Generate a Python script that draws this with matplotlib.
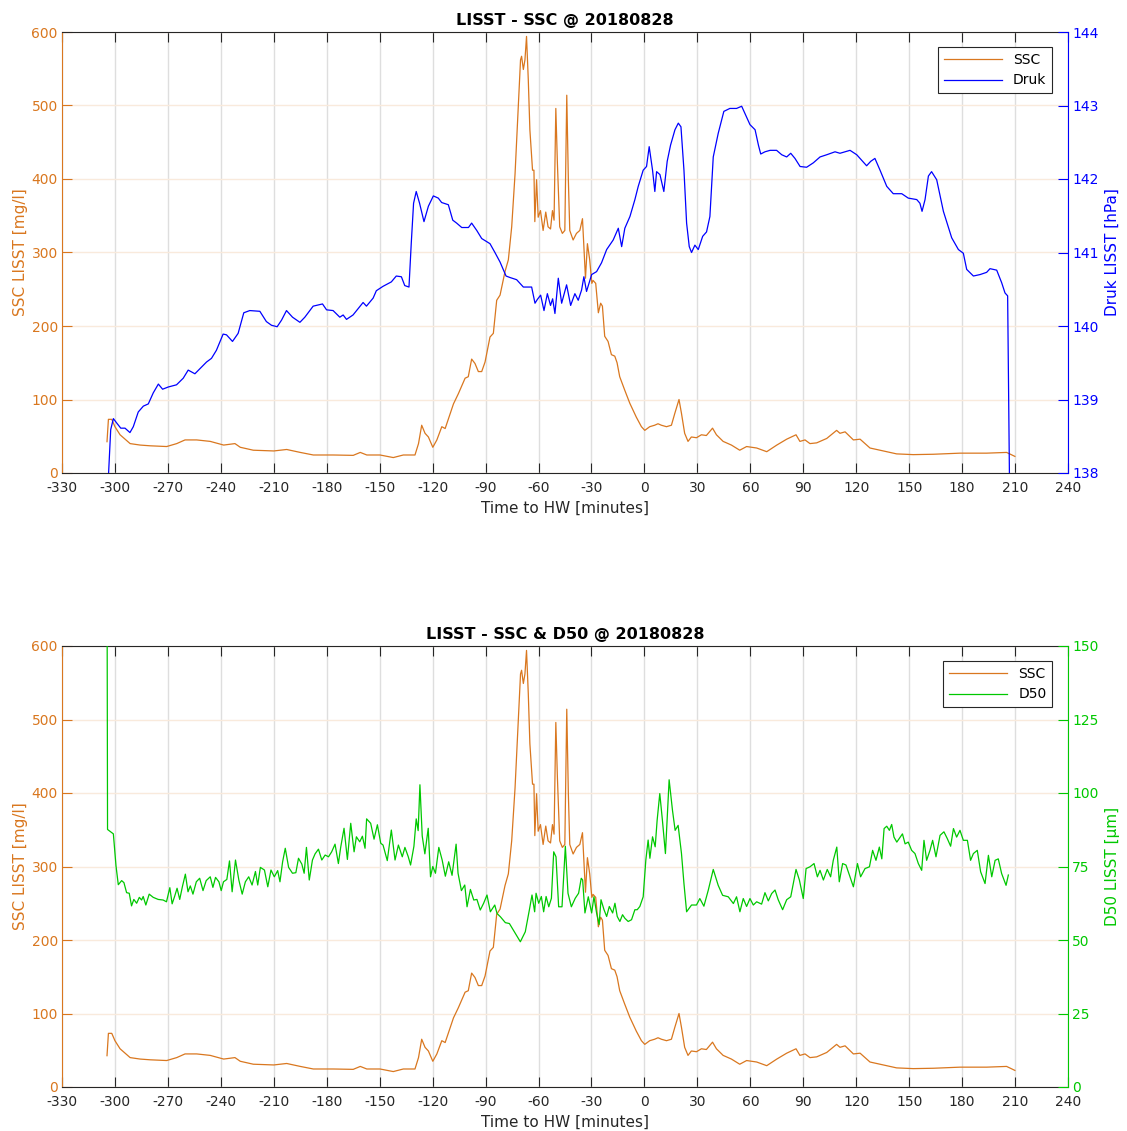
import matplotlib
matplotlib.use("Agg")
import matplotlib.pyplot as plt
import numpy as np

plt.rcParams['font.family'] = ['DejaVu Sans']
plt.rcParams['axes.unicode_minus'] = False

# LISST meting 28-08-2018, tijd t.o.v. hoogwater [min]
ssc_time = [-304.5, -303.7, -301.8, -300.0, -297.1, -291.4, -285.7, -280.0, -270.7, -265.0,
            -260.3, -253.7, -246.0, -238.4, -232.0, -229.0, -221.6, -210.0, -202.7, -195.0,
            -187.6, -176.3, -165.0, -161.0, -157.3, -149.8, -142.3, -136.6, -130.0, -128.0,
            -126.2, -124.3, -122.4, -119.9, -117.6, -114.8, -112.9, -108.2, -105.4, -101.6,
            -99.8, -97.9, -96.0, -94.1, -92.2, -90.3, -87.5, -85.6, -83.7, -81.8,
            -79.0, -77.1, -75.2, -73.3, -71.5, -70.2, -69.6, -68.6, -67.7, -66.8,
            -65.8, -64.9, -63.4, -62.6, -62.1, -61.1, -60.2, -58.9, -57.4, -55.9,
            -54.6, -53.2, -52.1, -51.2, -50.2, -49.3, -48.0, -46.5, -45.1, -44.0,
            -43.1, -42.3, -40.4, -38.5, -36.6, -35.1, -34.4, -33.4, -32.3, -31.0,
            -29.8, -29.1, -27.6, -26.1, -24.8, -23.8, -22.5, -20.6, -18.7, -16.8,
            -15.5, -14.0, -11.2, -8.3, -4.6, -1.7, 0.2, 3.0, 5.8, 7.7,
            9.6, 12.5, 15.3, 17.2, 19.6, 21.0, 22.8, 24.7, 26.6, 29.5,
            32.3, 35.1, 38.6, 40.8, 44.6, 49.3, 54.0, 57.9, 63.6, 69.3,
            75.0, 80.6, 85.9, 88.1, 91.0, 93.8, 97.6, 103.3, 108.9, 110.8,
            113.7, 118.4, 122.2, 127.8, 133.5, 142.9, 152.3, 163.7, 178.8, 193.9,
            205.2, 209.9]
ssc = [42.6, 73, 73, 63, 52, 40, 38, 37, 36, 40,
       45, 45, 43, 38, 40, 35, 31, 30, 32, 28,
       24.5, 24.5, 24, 28, 24.5, 24.5, 21, 24.5, 24.5, 40,
       65, 54, 49, 35, 45, 63, 60.5, 94, 108, 129,
       131, 155, 149, 138, 138, 151, 185, 190, 235, 242,
       274, 290, 335, 407, 498, 562, 567, 549, 562, 594,
       535, 467, 412, 412, 342, 399, 348, 357, 330, 355,
       335, 332, 357, 344, 496, 421, 335, 326, 330, 514,
       399, 330, 317, 326, 330, 346, 312, 265, 312, 290,
       258, 262, 258, 218, 231, 227, 186, 179, 161, 159,
       150, 131, 113, 95, 76, 63, 58, 63, 65, 67,
       65, 63, 65, 81, 100, 81, 54, 43, 49, 48,
       52, 51, 61, 52, 43, 38, 31, 36, 34, 29,
       38, 46, 52, 43, 45, 40, 41, 47, 58, 54,
       56, 45, 46, 34, 31, 26, 25, 25.5, 27, 27,
       28, 22.6]

druk_time = [-303.6, -302.4, -300.9, -299.0, -296.7, -294.3, -291.5, -289.6, -286.8, -283.9,
             -281.1, -278.3, -275.4, -273.0, -269.8, -265.1, -261.3, -258.5, -254.7, -251.0,
             -248.1, -245.3, -242.5, -238.7, -236.8, -233.4, -230.2, -227.0, -223.6, -217.9,
             -214.2, -211.3, -208.1, -205.6, -202.8, -199.4, -195.2, -192.4, -187.7, -182.4,
             -180.1, -176.4, -172.6, -170.7, -168.8, -165.1, -159.4, -157.5, -153.7, -151.9,
             -148.1, -143.4, -140.6, -137.7, -135.8, -133.4, -132.1, -130.8, -129.3, -127.4,
             -124.9, -122.4, -119.6, -116.8, -114.9, -111.1, -108.6, -106.4, -103.5, -99.7,
             -97.9, -95.0, -92.2, -87.5, -84.7, -81.8, -78.4, -76.2, -72.4, -68.6,
             -63.9, -62.0, -60.7, -58.8, -56.9, -55.0, -53.2, -52.0, -50.7, -48.8,
             -46.9, -44.1, -41.8, -39.4, -37.5, -35.6, -34.3, -32.8, -29.9, -27.1,
             -24.3, -21.4, -17.7, -14.8, -12.9, -11.1, -8.2, -5.4, -3.5, -0.7,
             1.2, 2.7, 4.6, 5.9, 6.9, 8.8, 11.0, 12.9, 14.8, 17.3,
             19.2, 20.7, 22.4, 23.9, 25.4, 26.7, 28.6, 30.5, 33.0, 35.2,
             37.1, 39.0, 41.8, 45.0, 48.4, 52.2, 55.1, 57.9, 59.8, 62.7,
             64.6, 65.9, 68.3, 71.2, 74.9, 77.8, 80.6, 82.9, 85.3, 88.2,
             91.9, 95.7, 99.5, 103.3, 108.0, 110.8, 116.5, 120.3, 125.9, 128.2,
             130.6, 133.5, 137.3, 141.0, 145.8, 149.5, 154.3, 156.1, 157.3, 159.0,
             160.9, 162.7, 165.6, 169.4, 174.1, 177.9, 180.7, 182.6, 186.4, 190.2,
             193.9, 195.8, 199.6, 202.4, 204.3, 205.8, 206.8]
druk = [138.0, 138.59, 138.74, 138.68, 138.61, 138.61, 138.55, 138.63, 138.83, 138.91,
        138.94, 139.09, 139.21, 139.14, 139.17, 139.20, 139.29, 139.40, 139.35, 139.44,
        139.51, 139.56, 139.67, 139.89, 139.88, 139.79, 139.90, 140.18, 140.21, 140.20,
        140.06, 140.01, 139.99, 140.08, 140.21, 140.12, 140.05, 140.12, 140.27, 140.30,
        140.22, 140.21, 140.12, 140.15, 140.09, 140.15, 140.32, 140.27, 140.38, 140.48,
        140.54, 140.60, 140.68, 140.67, 140.55, 140.53, 141.13, 141.67, 141.83, 141.67,
        141.42, 141.63, 141.77, 141.74, 141.68, 141.65, 141.44, 141.40, 141.34, 141.34,
        141.40, 141.30, 141.19, 141.12, 141.00, 140.87, 140.68, 140.66, 140.63, 140.53,
        140.53, 140.31, 140.36, 140.42, 140.21, 140.44, 140.28, 140.37, 140.17, 140.65,
        140.31, 140.56, 140.28, 140.44, 140.35, 140.49, 140.67, 140.47, 140.70, 140.74,
        140.86, 141.04, 141.17, 141.33, 141.08, 141.33, 141.49, 141.72, 141.90, 142.12,
        142.17, 142.44, 142.12, 141.83, 142.10, 142.06, 141.83, 142.24, 142.46, 142.67,
        142.76, 142.71, 142.12, 141.40, 141.08, 141.00, 141.10, 141.04, 141.22, 141.28,
        141.49, 142.30, 142.62, 142.92, 142.96, 142.96, 142.99, 142.84, 142.74, 142.67,
        142.46, 142.34, 142.37, 142.39, 142.39, 142.33, 142.30, 142.35, 142.28, 142.17,
        142.16, 142.22, 142.30, 142.33, 142.37, 142.35, 142.39, 142.33, 142.18, 142.24,
        142.28, 142.12, 141.90, 141.80, 141.80, 141.74, 141.72, 141.67, 141.56, 141.72,
        142.04, 142.10, 141.99, 141.56, 141.20, 141.04, 140.99, 140.77, 140.68, 140.70,
        140.73, 140.78, 140.76, 140.59, 140.45, 140.41, 138.0]

d50_time = [-304.4, -304.2, -300.9, -299.4, -298.1, -296.2, -294.9, -293.4, -291.9, -290.6,
            -289.3, -287.7, -286.2, -284.9, -284.0, -282.5, -280.6, -278.3, -275.5, -272.7,
            -270.8, -268.9, -267.6, -266.1, -264.8, -263.3, -261.8, -260.1, -258.6, -257.3,
            -255.8, -253.9, -252.0, -250.1, -248.3, -246.0, -244.5, -243.0, -241.1, -239.8,
            -238.5, -236.6, -235.1, -233.6, -231.7, -229.8, -227.9, -226.1, -224.2, -222.3,
            -220.4, -219.1, -217.6, -215.3, -213.4, -211.6, -209.7, -207.8, -206.5, -205.0,
            -203.5, -201.6, -199.4, -197.5, -196.0, -194.1, -192.8, -191.5, -189.9, -188.1,
            -186.6, -184.7, -182.8, -180.9, -179.0, -177.2, -175.3, -173.4, -172.1, -170.2,
            -168.3, -166.4, -164.5, -163.2, -161.3, -159.8, -158.3, -157.4, -155.1, -153.2,
            -151.3, -149.4, -148.1, -145.7, -143.4, -141.3, -139.4, -137.2, -135.7, -133.8,
            -132.5, -130.6, -129.3, -128.2, -127.2, -125.9, -124.4, -122.5, -121.2, -119.9,
            -118.4, -116.5, -114.6, -112.8, -110.9, -109.0, -106.7, -105.6, -103.7, -101.8,
            -100.5, -98.6, -96.7, -94.9, -93.0, -91.1, -89.2, -87.3, -84.8, -83.5,
            -81.6, -78.8, -76.5, -73.1, -70.3, -67.5, -65.2, -63.7, -62.2, -61.4,
            -59.9, -58.4, -57.1, -55.7, -54.2, -52.7, -51.4, -50.1, -48.6, -46.7,
            -44.8, -43.3, -41.4, -39.2, -37.3, -35.8, -35.0, -33.7, -31.8, -29.9,
            -28.6, -27.1, -25.7, -24.6, -22.9, -21.4, -19.9, -18.0, -16.7, -15.4,
            -13.9, -12.4, -11.1, -9.2, -7.3, -5.4, -4.1, -2.6, -0.7, 0.8,
            2.1, 3.1, 4.6, 6.1, 7.2, 8.7, 10.2, 11.9, 14.0, 15.9,
            17.4, 19.1, 21.0, 22.4, 23.9, 26.7, 29.5, 31.4, 33.7, 36.2,
            39.0, 41.8, 44.3, 47.5, 50.4, 52.2, 54.1, 56.0, 57.9, 59.8,
            61.7, 63.6, 66.4, 68.3, 70.2, 72.1, 74.0, 75.8, 78.3, 80.6,
            82.9, 85.9, 87.8, 90.0, 91.6, 93.8, 96.1, 98.0, 99.5, 101.4,
            103.6, 105.5, 107.0, 109.0, 110.4, 112.3, 114.2, 116.1, 118.4, 120.7,
            122.5, 125.0, 127.5, 129.3, 131.2, 133.1, 134.5, 135.8, 137.3, 138.8,
            140.1, 141.4, 143.0, 144.9, 146.2, 147.7, 149.5, 151.4, 153.3, 155.2,
            157.1, 158.4, 159.9, 161.8, 163.3, 165.2, 167.5, 169.7, 171.6, 173.5,
            175.1, 176.9, 178.8, 180.7, 183.0, 184.8, 186.4, 188.6, 190.5, 193.0,
            194.9, 196.8, 198.7, 200.5, 202.4, 204.9, 206.2]
d50 = [150.0, 87.6, 86.1, 75.2, 68.8, 70.2, 69.5, 66.1, 65.9, 61.6,
       63.8, 62.5, 64.5, 63.6, 64.8, 61.9, 65.6, 64.5, 63.8, 63.6,
       63.0, 67.8, 62.3, 65.0, 67.6, 63.8, 68.1, 72.4, 66.4, 68.4,
       65.6, 69.8, 71.0, 66.8, 70.2, 71.5, 67.9, 71.3, 69.8, 66.8,
       69.8, 70.6, 76.9, 66.4, 77.2, 70.4, 65.6, 69.8, 71.5, 68.7,
       73.3, 68.7, 74.7, 73.8, 68.1, 73.8, 71.5, 73.6, 69.8, 76.6,
       81.2, 74.7, 72.7, 72.9, 77.8, 75.8, 72.7, 81.5, 70.4, 77.2,
       79.3, 80.9, 77.2, 78.9, 78.3, 80.0, 82.6, 76.0, 81.5, 88.0,
       77.4, 89.7, 80.0, 85.1, 83.4, 85.3, 81.2, 91.2, 89.7, 84.3,
       89.2, 82.9, 82.3, 77.0, 87.4, 77.2, 82.3, 78.3, 81.5, 78.3,
       75.5, 81.9, 91.2, 87.2, 102.8, 85.4, 79.3, 88.0, 71.5, 75.0,
       72.7, 81.5, 77.2, 71.7, 76.6, 72.0, 82.6, 72.7, 66.8, 68.7,
       61.3, 67.2, 63.6, 63.8, 60.2, 62.5, 65.3, 59.6, 61.9, 59.0,
       57.9, 55.9, 55.6, 52.2, 49.4, 52.8, 60.2, 65.3, 59.6, 65.9,
       62.5, 64.8, 59.6, 64.8, 61.3, 64.2, 80.0, 78.3, 61.3, 61.3,
       81.9, 65.9, 61.3, 64.2, 65.9, 71.0, 70.4, 59.2, 64.7, 59.2,
       64.7, 59.2, 55.3, 63.7, 60.3, 58.0, 61.4, 59.2, 62.5, 58.0,
       56.3, 58.6, 57.4, 56.3, 56.9, 60.3, 60.3, 61.4, 64.7, 77.2,
       84.0, 77.8, 85.1, 81.7, 90.7, 99.8, 90.7, 79.4, 104.5, 94.1,
       87.3, 89.0, 79.4, 69.2, 59.6, 61.9, 61.9, 64.1, 61.5, 67.0,
       74.0, 68.6, 65.2, 64.7, 62.4, 64.7, 59.6, 64.1, 61.4, 64.1,
       61.9, 63.0, 62.2, 66.1, 63.3, 65.8, 67.0, 63.7, 60.3, 63.7,
       64.7, 74.0, 70.4, 64.1, 74.3, 74.9, 76.0, 71.5, 73.7, 70.4,
       74.0, 71.5, 77.1, 81.6, 69.8, 76.0, 75.5, 72.1, 68.1, 76.0,
       71.5, 74.3, 74.9, 80.5, 77.1, 81.6, 77.6, 87.9, 88.7, 87.3,
       89.3, 85.0, 83.3, 85.0, 86.1, 82.7, 83.3, 80.5, 79.4, 76.0,
       73.7, 83.9, 77.1, 80.5, 83.9, 78.3, 85.6, 86.8, 84.5, 81.9,
       87.9, 85.0, 87.3, 83.9, 83.9, 77.1, 79.4, 80.5, 73.2, 69.2,
       78.8, 71.5, 77.1, 77.6, 72.6, 68.6, 72.1]

x_ticks = list(range(-330, 241, 30))
ssc_ticks = [0, 100, 200, 300, 400, 500, 600]
druk_ticks = [138, 139, 140, 141, 142, 143, 144]
d50_ticks = [0, 25, 50, 75, 100, 125, 150]

c_ssc = '#D9771F'
c_druk = '#0000FF'
c_d50 = '#00C800'
c_ax = '#262626'
c_grid_x = '#DEDEDE'
c_grid_y = '#F9EADC'


def opmaak(ax, ax2, rcolor, title):
    ax.set_xlim(-330, 240)
    ax.set_ylim(0, 600)
    ax.set_xticks(x_ticks)
    ax.set_yticks(ssc_ticks)
    ax.xaxis.grid(True, color=c_grid_x, lw=1.0)
    ax.yaxis.grid(True, color=c_grid_y, lw=1.0)
    ax.set_axisbelow(True)
    ax.tick_params(axis='x', direction='in', top=True, length=7, width=0.8,
                   color=c_ax, labelcolor=c_ax, labelsize=10, pad=6)
    ax.tick_params(axis='y', direction='in', length=7, width=0.8,
                   color=c_ssc, labelcolor=c_ssc, labelsize=10, pad=3)
    ax2.tick_params(axis='y', direction='in', length=7, width=0.8,
                    color=rcolor, labelcolor=rcolor, labelsize=10, pad=3)
    ax.spines['left'].set_color(c_ssc)
    ax.spines['top'].set_color(c_ax)
    ax.spines['bottom'].set_color(c_ax)
    ax.spines['right'].set_visible(False)
    for s in ['left', 'top', 'bottom']:
        ax2.spines[s].set_visible(False)
    ax2.spines['right'].set_color(rcolor)
    ax.set_ylabel('SSC LISST [mg/l]', color=c_ssc, fontsize=11)
    ax.yaxis.set_label_coords(-0.034, 0.5)
    ax.set_xlabel('Time to HW [minutes]', color=c_ax, fontsize=11)
    ax.xaxis.set_label_coords(0.5, -0.063)
    ax.set_title(title, fontsize=11.5, fontweight='bold', pad=5)


fig = plt.figure(figsize=(11.27, 11.31), dpi=100)

# bovenste figuur: SSC en druk
ax1 = fig.add_axes([62/1127, 1 - 473/1131, 1006/1127, 441/1131])
ax1b = ax1.twinx()
l1, = ax1.plot(ssc_time, ssc, color=c_ssc, lw=0.9, label='SSC')
l2, = ax1b.plot(druk_time, druk, color=c_druk, lw=0.9, label='Druk')
ax1b.set_ylim(138, 144)
ax1b.set_yticks(druk_ticks)
ax1b.set_ylabel('Druk LISST [hPa]', color=c_druk, fontsize=11)
ax1b.yaxis.set_label_coords(1.037, 0.5)
opmaak(ax1, ax1b, c_druk, 'LISST - SSC @ 20180828')
leg = ax1b.legend(handles=[l1, l2], loc='upper right', bbox_to_anchor=(1 - 16/1006, 1 - 15/441),
                  borderaxespad=0, fontsize=10, handlelength=4.2, fancybox=False,
                  framealpha=1, edgecolor=c_ax)
leg.get_frame().set_linewidth(0.8)

# onderste figuur: SSC en D50
ax2 = fig.add_axes([62/1127, 1 - 1087/1131, 1006/1127, 441/1131])
ax2b = ax2.twinx()
l3, = ax2.plot(ssc_time, ssc, color=c_ssc, lw=0.9, label='SSC')
l4, = ax2b.plot(d50_time, d50, color=c_d50, lw=0.9, label='D50')
ax2b.set_ylim(0, 150)
ax2b.set_yticks(d50_ticks)
ax2b.set_ylabel('D50 LISST [\u03bcm]', color=c_d50, fontsize=11)
ax2b.yaxis.set_label_coords(1.037, 0.5)
opmaak(ax2, ax2b, c_d50, 'LISST - SSC & D50 @ 20180828')
leg2 = ax2b.legend(handles=[l3, l4], loc='upper right', bbox_to_anchor=(1 - 16/1006, 1 - 15/441),
                   borderaxespad=0, fontsize=10, handlelength=4.2, fancybox=False,
                   framealpha=1, edgecolor=c_ax)
leg2.get_frame().set_linewidth(0.8)

fig.savefig('out.png', dpi=100)
